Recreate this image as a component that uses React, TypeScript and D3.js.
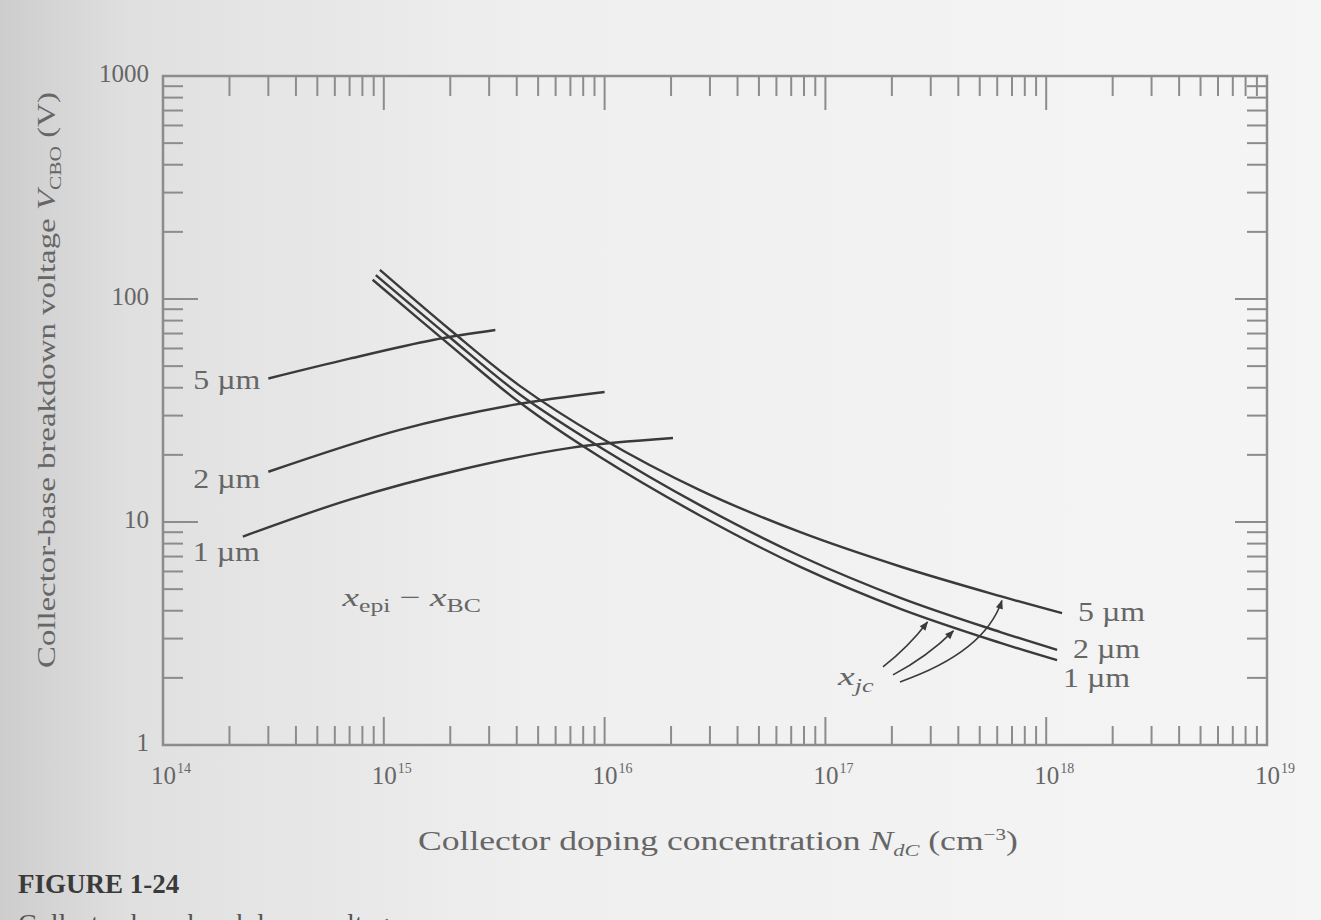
import React, { useEffect, useRef } from "react";
import * as d3 from "d3";

// x_jc curves (descending): doping N (cm^-3) vs breakdown V
const jc5N = [9.6e14, 2e15, 4.1e15, 9.5e15, 2.7e16, 7.7e16, 2.2e17, 6.2e17, 1.18e18];
const jc5V = [135, 72.6, 41, 24, 13.9, 9.0, 6.3, 4.65, 3.9];
const jc2N = [9.2e14, 2e15, 4.1e15, 9.5e15, 2.7e16, 7.7e16, 2.2e17, 6.2e17, 1.12e18];
const jc2V = [128, 67, 37.5, 21.7, 11.9, 7.04, 4.56, 3.21, 2.67];
const jc1N = [8.9e14, 2e15, 4.1e15, 9.5e15, 2.7e16, 7.7e16, 2.2e17, 6.2e17, 1.12e18];
const jc1V = [122, 62, 34.5, 19.6, 10.7, 6.29, 4.07, 2.87, 2.4];

// x_epi - x_BC curves (rising, punch-through)
const epi5N = [3e14, 7e14, 1.67e15, 3.2e15];
const epi5V = [44, 54, 65.5, 72.6];
const epi2N = [3e14, 1.18e15, 3.85e15, 1e16];
const epi2V = [16.8, 25.9, 33.5, 38.3];
const epi1N = [2.3e14, 7e14, 2.2e15, 7e15, 2.04e16];
const epi1V = [8.6, 12.6, 17.1, 21.5, 23.8];

const curveLabels = ["5 µm", "2 µm", "1 µm"];
const xDecades = [14, 15, 16, 17, 18, 19];
const yTickLabels = ["1", "10", "100", "1000"];
const jcArrowN = [2.9e17, 3.8e17, 6.3e17];

const zip = (a: number[], b: number[]) => a.map((v, i) => [v, b[i]] as [number, number]);

// log-log interpolation on a curve
const interpV = (ns: number[], vs: number[], n: number) => {
  const ln = Math.log10(n);
  for (let i = 0; i < ns.length - 1; i++) {
    const a = Math.log10(ns[i]), b = Math.log10(ns[i + 1]);
    if (ln >= a && ln <= b) {
      const t = (ln - a) / (b - a);
      return Math.pow(10, Math.log10(vs[i]) + t * (Math.log10(vs[i + 1]) - Math.log10(vs[i])));
    }
  }
  return vs[vs.length - 1];
};

const Chart = () => {
  const ref = useRef<SVGSVGElement>(null);

  useEffect(() => {
    const svg = d3.select(ref.current);
    svg.selectAll("*").remove();

    const W = 1321, H = 920;
    const serif = "'Liberation Serif', 'DejaVu Serif', serif";
    const ink = "#3a3a3a";
    const axisInk = "#8c8c8c";
    const textInk = "#666666";

    const x = d3.scaleLog().domain([1e14, 1e19]).range([163, 1267]);
    const y = d3.scaleLog().domain([1, 1000]).range([745, 76]);

    const defs = svg.append("defs");
    const bg = defs.append("linearGradient").attr("id", "paper")
      .attr("x1", "0%").attr("x2", "100%").attr("y1", "0%").attr("y2", "0%");
    bg.append("stop").attr("offset", "0%").attr("stop-color", "#cdcdcd");
    bg.append("stop").attr("offset", "10%").attr("stop-color", "#e0e0e0");
    bg.append("stop").attr("offset", "40%").attr("stop-color", "#efefef");
    bg.append("stop").attr("offset", "100%").attr("stop-color", "#f5f5f5");
    defs.append("marker").attr("id", "head")
      .attr("viewBox", "0 0 10 10").attr("refX", 9).attr("refY", 5)
      .attr("markerWidth", 10).attr("markerHeight", 9).attr("orient", "auto")
      .attr("markerUnits", "userSpaceOnUse")
      .append("path").attr("d", "M0,1 L10,5 L0,9 Z").attr("fill", ink);

    svg.append("rect").attr("width", W).attr("height", H).attr("fill", "url(#paper)");

    // stretch a text group horizontally (along its own direction) to a target width
    const fit = (g: any, w: number) => {
      const t = g.select("text").node() as SVGTextElement;
      const bw = t.getBBox().width;
      if (bw > 0) g.select("text").attr("transform", `scale(${w / bw},1)`);
    };

    // frame
    const [x0, x1] = x.range();
    const [y0, y1] = y.range();
    svg.append("rect")
      .attr("x", x0).attr("y", y1).attr("width", x1 - x0).attr("height", y0 - y1)
      .attr("fill", "none").attr("stroke", axisInk).attr("stroke-width", 2.5);

    // x ticks (top and bottom)
    const g = svg.append("g").attr("stroke", axisInk).attr("stroke-width", 2);
    xDecades.forEach((d, i) => {
      const xm = x(Math.pow(10, d));
      g.append("line").attr("x1", xm).attr("x2", xm).attr("y1", y0).attr("y2", y0 - 28);
      g.append("line").attr("x1", xm).attr("x2", xm).attr("y1", y1).attr("y2", y1 + 34);
      if (i < xDecades.length - 1) {
        for (let k = 2; k <= 9; k++) {
          const xv = x(k * Math.pow(10, d));
          g.append("line").attr("x1", xv).attr("x2", xv).attr("y1", y0).attr("y2", y0 - 19);
          g.append("line").attr("x1", xv).attr("x2", xv).attr("y1", y1).attr("y2", y1 + 20);
        }
      }
    });
    // y ticks (left and right)
    [0, 1, 2, 3].forEach((d) => {
      const ym = y(Math.pow(10, d));
      g.append("line").attr("y1", ym).attr("y2", ym).attr("x1", x0).attr("x2", x0 + 35);
      g.append("line").attr("y1", ym).attr("y2", ym).attr("x1", x1).attr("x2", x1 - 32);
      if (d < 3) {
        for (let k = 2; k <= 9; k++) {
          const yv = y(k * Math.pow(10, d));
          g.append("line").attr("y1", yv).attr("y2", yv).attr("x1", x0).attr("x2", x0 + 20);
          g.append("line").attr("y1", yv).attr("y2", yv).attr("x1", x1).attr("x2", x1 - 20);
        }
      }
    });

    // tick labels
    yTickLabels.forEach((t) => {
      svg.append("text").attr("x", x0 - 14).attr("y", y(+t) + 6)
        .attr("text-anchor", "end").attr("font-family", serif).attr("font-size", 25)
        .attr("fill", textInk).text(t);
    });
    xDecades.forEach((d) => {
      const tx = svg.append("text").attr("x", x(Math.pow(10, d)) - 12).attr("y", 784)
        .attr("font-family", serif).attr("font-size", 25).attr("fill", textInk);
      tx.append("tspan").text("10");
      tx.append("tspan").attr("dx", 1).attr("dy", -11).attr("font-size", 14).text(String(d));
    });

    // curves
    const line = d3.line<[number, number]>()
      .x((d) => x(d[0])).y((d) => y(d[1]))
      .curve(d3.curveCatmullRom.alpha(0.5));
    const jcCurves = [zip(jc5N, jc5V), zip(jc2N, jc2V), zip(jc1N, jc1V)];
    const epiCurves = [zip(epi5N, epi5V), zip(epi2N, epi2V), zip(epi1N, epi1V)];
    [...jcCurves, ...epiCurves].forEach((c) => {
      svg.append("path").attr("d", line(c)).attr("fill", "none")
        .attr("stroke", ink).attr("stroke-width", 2.4);
    });

    // labels for epi curves (left) and jc curves (right)
    const label = (tx: number, ty: number, s: string) =>
      svg.append("text").attr("x", tx).attr("y", ty).attr("font-family", serif)
        .attr("font-size", 27).attr("fill", textInk)
        .attr("textLength", 67).attr("lengthAdjust", "spacingAndGlyphs").text(s);
    const leftOff = [[-75, 10], [-75, 16], [-50, 24]];
    epiCurves.forEach((c, i) => {
      const p = c[0];
      label(x(p[0]) + leftOff[i][0], y(p[1]) + leftOff[i][1], curveLabels[i]);
    });
    const rightOff = [[16, 8], [16, 8], [6, 27]];
    jcCurves.forEach((c, i) => {
      const p = c[c.length - 1];
      label(x(p[0]) + rightOff[i][0], y(p[1]) + rightOff[i][1], curveLabels[i]);
    });

    // x_epi - x_BC annotation
    const epiG = svg.append("g").attr("transform", `translate(${x(6.5e14)},${y(4.2)})`);
    const epiTxt = epiG.append("text")
      .attr("font-family", serif).attr("font-size", 26).attr("fill", textInk);
    epiTxt.append("tspan").attr("font-style", "italic").text("x");
    epiTxt.append("tspan").attr("dy", 6).attr("font-size", 18).text("epi");
    epiTxt.append("tspan").attr("dy", -6).text(" − ");
    epiTxt.append("tspan").attr("font-style", "italic").text("x");
    epiTxt.append("tspan").attr("dy", 6).attr("font-size", 18).text("BC");
    fit(epiG, 140);

    // x_jc annotation with arrows
    const lx = x(1.14e17), ly = y(1.86);
    const jcG = svg.append("g").attr("transform", `translate(${lx},${ly})`);
    const jcTxt = jcG.append("text")
      .attr("font-family", serif).attr("font-size", 26).attr("fill", textInk);
    jcTxt.append("tspan").attr("font-style", "italic").text("x");
    jcTxt.append("tspan").attr("dy", 7).attr("font-size", 18).attr("font-style", "italic").text("jc");
    fit(jcG, 37);
    const targets = [
      [jcArrowN[0], interpV(jc1N, jc1V, jcArrowN[0])],
      [jcArrowN[1], interpV(jc1N, jc1V, jcArrowN[1])],
      [jcArrowN[2], interpV(jc5N, jc5V, jcArrowN[2])],
    ];
    const tails = [[45, -18], [55, -10], [62, -3]];
    const bends = [[3, 3], [4, 4], [34, 11]];
    targets.forEach((t, i) => {
      const sx = lx + tails[i][0], sy = ly + tails[i][1];
      const tx = x(t[0]), ty = y(t[1]) + 4;
      const cx = (sx + tx) / 2 + bends[i][0], cy = (sy + ty) / 2 + bends[i][1];
      svg.append("path").attr("d", `M${sx},${sy} Q${cx},${cy} ${tx},${ty}`)
        .attr("fill", "none").attr("stroke", ink).attr("stroke-width", 1.6)
        .attr("marker-end", "url(#head)");
    });

    // axis titles
    const xg = svg.append("g").attr("transform", "translate(418,850)");
    const xt = xg.append("text")
      .attr("font-family", serif).attr("font-size", 27).attr("fill", textInk);
    xt.append("tspan").text("Collector doping concentration ");
    xt.append("tspan").attr("font-style", "italic").text("N");
    xt.append("tspan").attr("dy", 6).attr("font-size", 17).attr("font-style", "italic").text("dC");
    xt.append("tspan").attr("dy", -6).text(" (cm");
    xt.append("tspan").attr("dy", -10).attr("font-size", 16).text("−3");
    xt.append("tspan").attr("dy", 10).text(")");
    fit(xg, 600);

    const yg = svg.append("g").attr("transform", "translate(55,668) rotate(-90)");
    const yt = yg.append("text")
      .attr("font-family", serif).attr("font-size", 26).attr("fill", textInk);
    yt.append("tspan").text("Collector-base breakdown voltage ");
    yt.append("tspan").attr("font-style", "italic").text("V");
    yt.append("tspan").attr("dy", 6).attr("font-size", 17).text("CBO");
    yt.append("tspan").attr("dy", -6).text(" (V)");
    fit(yg, 576);

    // caption
    svg.append("text").attr("x", 18).attr("y", 893).attr("font-family", serif)
      .attr("font-size", 27).attr("font-weight", "bold").attr("fill", "#3a3a3a").text("FIGURE 1-24");
    svg.append("text").attr("x", 18).attr("y", 933).attr("font-family", serif)
      .attr("font-size", 28).attr("fill", "#555").text("Collector-base breakdown voltage");
  }, []);

  return <svg ref={ref} width={1321} height={920} style={{ display: "block" }}></svg>;
};

export default function App() {
  return (
    <div style={{ position: "absolute", left: 0, top: 0 }}>
      <Chart />
    </div>
  );
}
